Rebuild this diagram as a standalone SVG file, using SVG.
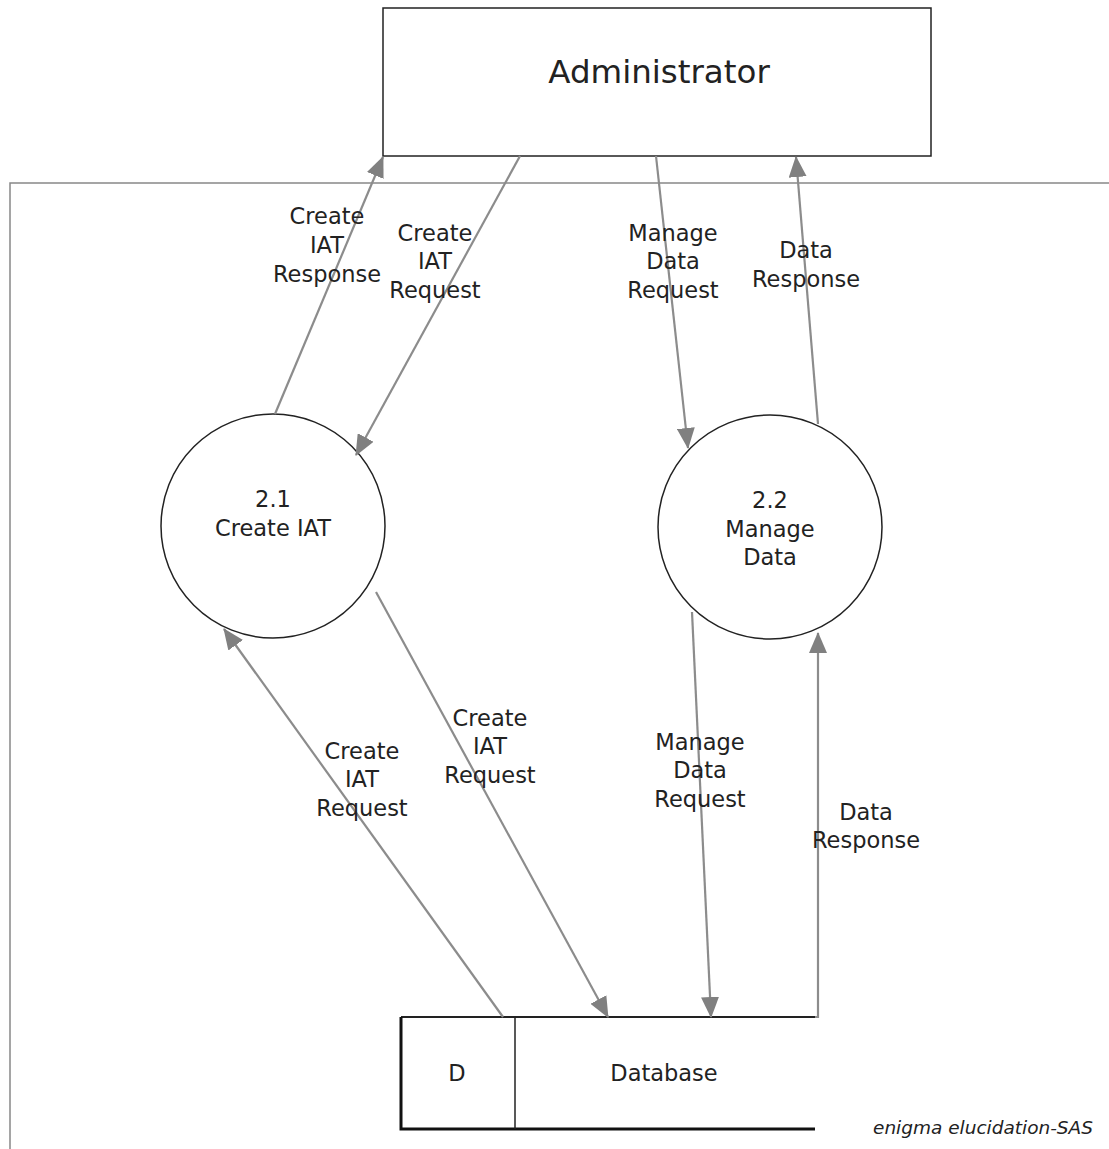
<svg xmlns="http://www.w3.org/2000/svg" width="1109" height="1149" viewBox="0 0 1109 1149">
<style>
text{font-family:"DejaVu Sans","Liberation Sans",sans-serif;fill:#222;text-anchor:middle}
.lbl{font-size:22.5px}
.flow{stroke:#8c8c8c;stroke-width:2.2;fill:none}
.node{fill:#fff;stroke:#222;stroke-width:1.5}
</style>
<defs>
<marker id="arr" markerUnits="userSpaceOnUse" markerWidth="21" markerHeight="18" viewBox="0 0 21 18" refX="20" refY="9" orient="auto">
<path d="M0,0 L21,9 L0,18 Z" fill="#808080"/>
</marker>
</defs>
<rect width="1109" height="1149" fill="#fff"/>
<g id="boundary">
<path d="M1109,183 H10 V1149" fill="none" stroke="#888" stroke-width="1.5"/>
</g>
<g id="administrator">
<rect class="node" x="383" y="8" width="548" height="148"/>
<text x="659" y="83" style="font-size:32.5px">Administrator</text>
</g>
<g id="p2_1">
<circle class="node" cx="273" cy="526" r="112"/>
<text class="lbl" x="273" y="507">2.1</text>
<text class="lbl" x="273" y="536">Create IAT</text>
</g>
<g id="p2_2">
<circle class="node" cx="770" cy="527" r="112"/>
<text class="lbl" x="770" y="508">2.2</text>
<text class="lbl" x="770" y="537">Manage</text>
<text class="lbl" x="770" y="565">Data</text>
</g>
<g id="database">
<path d="M401,1017 H815" stroke="#222" stroke-width="2" fill="none"/>
<path d="M401,1017 V1129 H815" stroke="#111" stroke-width="3" fill="none"/>
<path d="M515,1017 V1129" stroke="#222" stroke-width="1.5"/>
<text class="lbl" x="457" y="1081">D</text>
<text class="lbl" x="664" y="1081">Database</text>
</g>
<g id="connectors">
<line class="flow" x1="275" y1="414" x2="383" y2="157" marker-end="url(#arr)"/>
<line class="flow" x1="520" y1="156" x2="356" y2="455" marker-end="url(#arr)"/>
<line class="flow" x1="656" y1="156" x2="688" y2="448" marker-end="url(#arr)"/>
<line class="flow" x1="818" y1="424" x2="796" y2="157" marker-end="url(#arr)"/>
<line class="flow" x1="376" y1="592" x2="608" y2="1017" marker-end="url(#arr)"/>
<line class="flow" x1="503" y1="1017" x2="224" y2="629" marker-end="url(#arr)"/>
<line class="flow" x1="692" y1="612" x2="711" y2="1017" marker-end="url(#arr)"/>
<path class="flow" d="M815,1017 H818 V633" marker-end="url(#arr)"/>
</g>
<g id="labels">
<text class="lbl" x="327" y="224">Create</text>
<text class="lbl" x="327" y="253">IAT</text>
<text class="lbl" x="327" y="282">Response</text>
<text class="lbl" x="435" y="241">Create</text>
<text class="lbl" x="435" y="269">IAT</text>
<text class="lbl" x="435" y="298">Request</text>
<text class="lbl" x="673" y="241">Manage</text>
<text class="lbl" x="673" y="269">Data</text>
<text class="lbl" x="673" y="298">Request</text>
<text class="lbl" x="806" y="258">Data</text>
<text class="lbl" x="806" y="287">Response</text>
<text class="lbl" x="362" y="759">Create</text>
<text class="lbl" x="362" y="787">IAT</text>
<text class="lbl" x="362" y="816">Request</text>
<text class="lbl" x="490" y="726">Create</text>
<text class="lbl" x="490" y="754">IAT</text>
<text class="lbl" x="490" y="783">Request</text>
<text class="lbl" x="700" y="750">Manage</text>
<text class="lbl" x="700" y="778">Data</text>
<text class="lbl" x="700" y="807">Request</text>
<text class="lbl" x="866" y="820">Data</text>
<text class="lbl" x="866" y="848">Response</text>
<text x="983" y="1134" textLength="220" lengthAdjust="spacingAndGlyphs" style="font-size:17px;font-style:italic">enigma elucidation-SAS</text>
</g>
</svg>
